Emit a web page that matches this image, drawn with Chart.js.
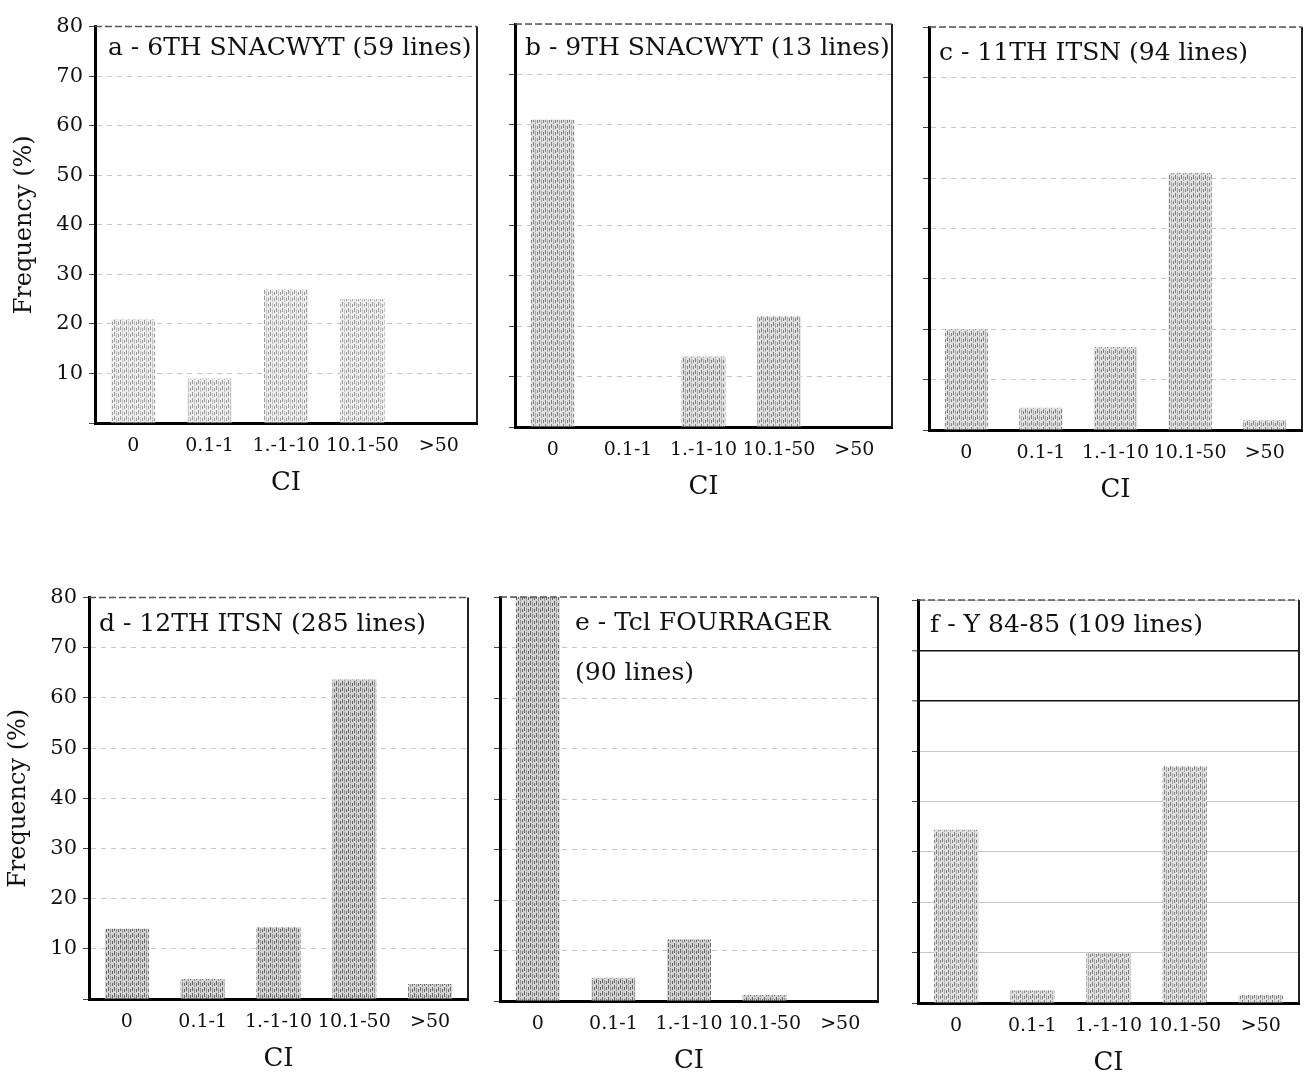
<!DOCTYPE html>
<html><head><meta charset="utf-8">
<script src="https://cdn.jsdelivr.net/npm/chart.js@4.4.1/dist/chart.umd.min.js"></script>
<style>
html,body{margin:0;padding:0;background:#fff;width:1307px;height:1080px;overflow:hidden;}
canvas.p{position:absolute;}
</style></head><body>
<script>
// ---------- DATA ----------
const categories = ['0', '0.1-1', '1.-1-10', '10.1-50', '>50'];
const yTickLabels = [10, 20, 30, 40, 50, 60, 70, 80];
const yAxisTitle = 'Frequency (%)';
const xAxisTitle = 'CI';

const titleA = ['a - 6TH SNACWYT (59 lines)'];
const titleB = ['b - 9TH SNACWYT (13 lines)'];
const titleC = ['c - 11TH ITSN (94 lines)'];
const titleD = ['d - 12TH ITSN (285 lines)'];
const titleE = ['e - Tcl FOURRAGER', '(90 lines)'];
const titleF = ['f - Y 84-85 (109 lines)'];

const freqA = [21, 9, 27, 25, 0];
const freqB = [61, 0, 14, 22, 0];
const freqC = [20, 4.4, 16.5, 51, 2];
const freqD = [14, 4, 14.3, 63.7, 3];
const freqE = [80, 4.6, 12.2, 1.2, 0];
const freqF = [34.4, 2.5, 9.9, 47, 1.6];

// ---------- STYLE / LAYOUT ----------
const FONT = "'DejaVu Serif', 'Liberation Serif', serif";
const PAD_TOP = 14, PAD_R = 4, X_H = 76;
const panels = [
  {title: titleA, data: freqA, L: 95,  T: 22,  R: 477,  B: 423,  W: 95, yLabels: true,  yTitlePad: 10, tdx: 13, tdy: [22],     shade: 'light'},
  {title: titleB, data: freqB, L: 515, T: 24,  R: 892,  B: 427,  W: 30, yLabels: false, tdx: 10, tdy: [24],     shade: 'mid'},
  {title: titleC, data: freqC, L: 929, T: 27,  R: 1302, B: 430,  W: 30, yLabels: false, tdx: 10, tdy: [26],     shade: 'mid'},
  {title: titleD, data: freqD, L: 89,  T: 593, R: 468,  B: 999,  W: 89, yLabels: true,  yTitlePad: 4,  tdx: 10, tdy: [27],     shade: 'dense'},
  {title: titleE, data: freqE, L: 500, T: 597, R: 878,  B: 1001, W: 30, yLabels: false, tdx: 75, tdy: [26, 76], shade: 'dense'},
  {title: titleF, data: freqF, L: 918, T: 600, R: 1299, B: 1003, W: 30, yLabels: false, tdx: 12, tdy: [25],     shade: 'mid', darkLines: [60, 70]},
];

function makePattern(shade) {
  const c = document.createElement('canvas');
  c.width = 6; c.height = 6;
  const g = c.getContext('2d');
  const base = shade === 'light' ? '#eeeeee' : shade === 'mid' ? '#e0e0e0' : '#d4d4d4';
  const dark = shade === 'light' ? '#9a9a9a' : shade === 'mid' ? '#808080' : '#666666';
  const med = shade === 'light' ? '#c0c0c0' : shade === 'mid' ? '#a8a8a8' : '#959595';
  g.fillStyle = base; g.fillRect(0, 0, 6, 6);
  g.fillStyle = dark; g.fillRect(0, 0, 1, 4);
  g.fillStyle = med; g.fillRect(2, 1, 1, 5);
  g.fillStyle = dark; g.fillRect(4, 2, 1, 3);
  return g.createPattern(c, 'repeat');
}

const framePlugin = {
  id: 'frame',
  afterDatasetsDraw(chart) {
    const {ctx, chartArea: a} = chart;
    ctx.save();
    ctx.strokeStyle = '#222'; ctx.lineWidth = 2;
    ctx.beginPath(); ctx.moveTo(a.right, a.top); ctx.lineTo(a.right, a.bottom); ctx.stroke();
    ctx.strokeStyle = '#555'; ctx.lineWidth = 1.5; ctx.setLineDash([7, 3]);
    ctx.beginPath(); ctx.moveTo(a.left, a.top); ctx.lineTo(a.right, a.top); ctx.stroke();
    ctx.restore();
  }
};

const panelTitlePlugin = {
  id: 'panelTitle',
  afterDraw(chart, args, opts) {
    const {ctx, chartArea: a} = chart;
    ctx.save();
    ctx.font = '25px ' + FONT;
    ctx.fillStyle = '#111';
    ctx.textBaseline = 'middle';
    ctx.textAlign = 'left';
    opts.lines.forEach((t, i) => ctx.fillText(t, a.left + opts.dx, a.top + opts.dy[i]));
    ctx.restore();
  }
};

panels.forEach(p => {
  const cv = document.createElement('canvas');
  cv.className = 'p';
  const w = p.W + (p.R - p.L) + PAD_R;
  const h = PAD_TOP + (p.B - p.T) + X_H;
  cv.width = w; cv.height = h;
  cv.style.left = (p.L - p.W) + 'px';
  cv.style.top = (p.T - PAD_TOP) + 'px';
  cv.style.width = w + 'px'; cv.style.height = h + 'px';
  document.body.appendChild(cv);

  new Chart(cv, {
    type: 'bar',
    data: {
      labels: categories,
      datasets: [{
        data: p.data,
        backgroundColor: makePattern(p.shade),
        borderWidth: 0,
        barPercentage: 0.58,
        categoryPercentage: 1.0
      }]
    },
    options: {
      responsive: false,
      animation: false,
      devicePixelRatio: 1,
      layout: {padding: {top: PAD_TOP, right: PAD_R, left: 0, bottom: 0}},
      plugins: {
        legend: {display: false},
        tooltip: {enabled: false},
        panelTitle: {lines: p.title, dx: p.tdx, dy: p.tdy}
      },
      scales: {
        x: {
          afterFit: s => { s.height = X_H; },
          grid: {display: true, drawOnChartArea: false, drawTicks: false},
          border: {display: true, color: '#000', width: 3},
          ticks: {color: '#111', padding: 12, font: {family: FONT, size: 19}, maxRotation: 0, autoSkip: false},
          title: {display: true, text: xAxisTitle, color: '#111', font: {family: FONT, size: 26}, padding: {top: 0, bottom: 0}}
        },
        y: {
          min: 0, max: 80,
          afterFit: s => { s.width = p.W; },
          grid: {
            drawTicks: true, tickLength: 6,
            color: ctx => {
              const v = ctx.tick ? ctx.tick.value : null;
              if (v === 0) return 'rgba(0,0,0,0)';
              if (p.darkLines && p.darkLines.includes(v)) return '#111';
              return 'rgba(0,0,0,0.22)';
            },
            lineWidth: ctx => (p.darkLines && ctx.tick && p.darkLines.includes(ctx.tick.value)) ? 1.6 : 1,
            tickColor: '#444', tickWidth: 1
          },
          border: {display: true, color: '#000', width: 3, dash: p.darkLines ? [] : [5, 5]},
          ticks: {
            display: p.yLabels, stepSize: 10, padding: 6, color: '#111',
            font: {family: FONT, size: 21},
            callback: v => yTickLabels.includes(v) ? String(v) : ''
          },
          title: {display: p.yLabels, text: yAxisTitle, color: '#111', font: {family: FONT, size: 24}, padding: {top: p.yTitlePad || 0, bottom: 0}}
        }
      }
    },
    plugins: [framePlugin, panelTitlePlugin]
  });
});
</script>
</body></html>
